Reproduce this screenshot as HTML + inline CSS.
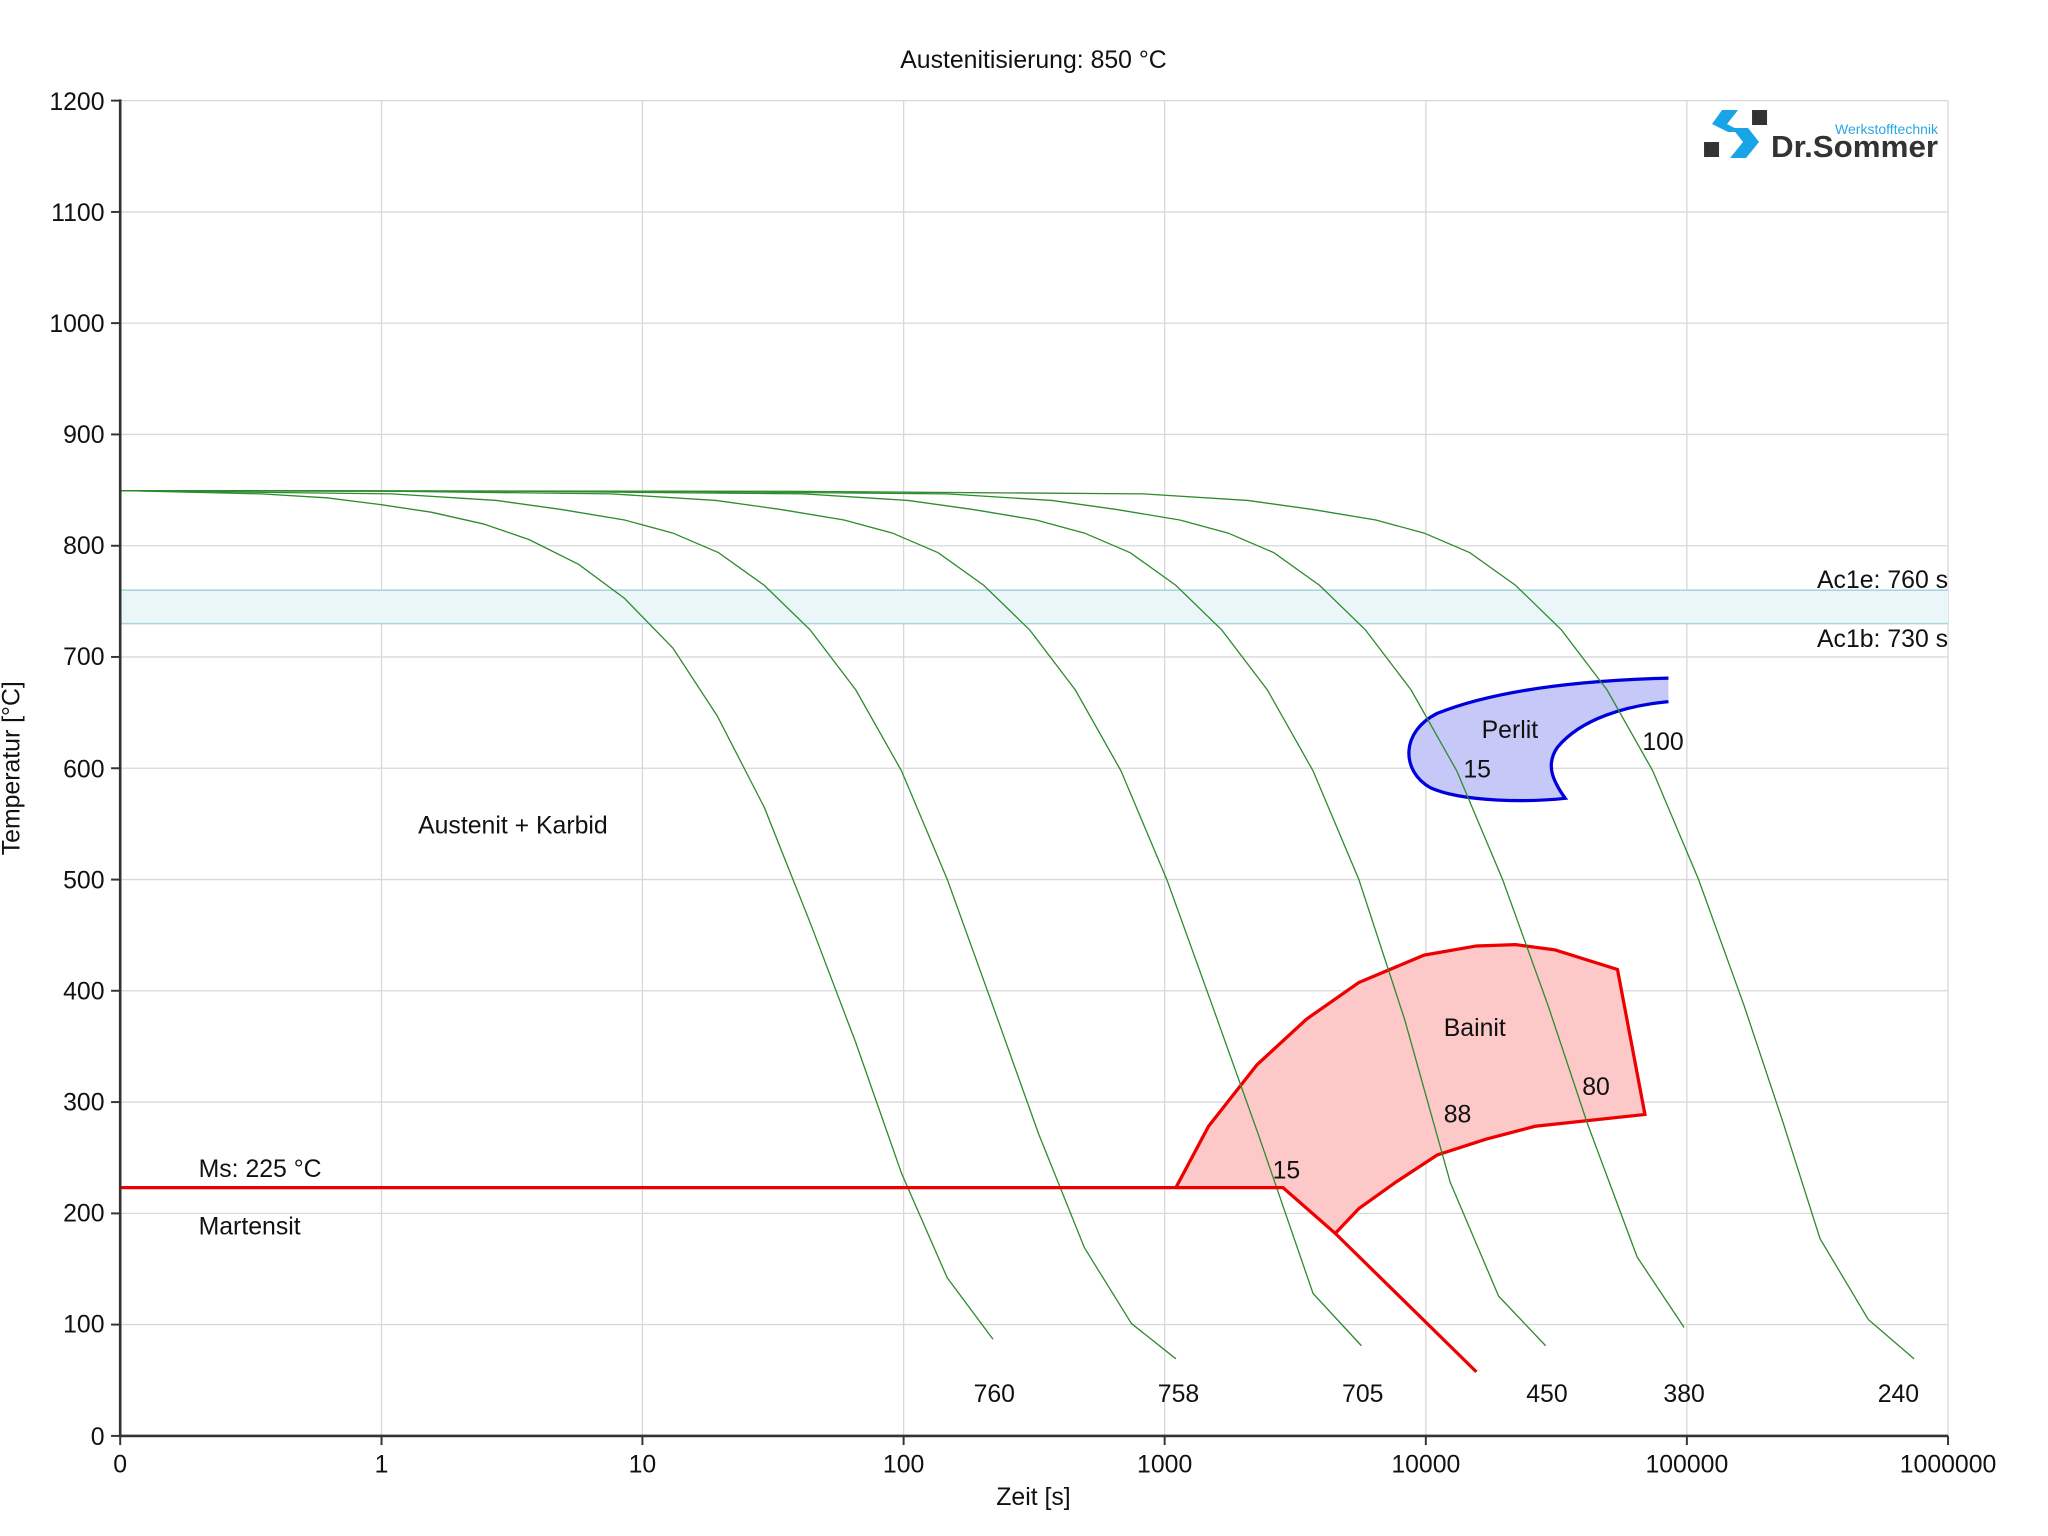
<!DOCTYPE html>
<html><head><meta charset="utf-8"><style>
html,body{margin:0;padding:0;background:#fff;}
svg{display:block;}
text{font-family:"Liberation Sans",sans-serif;fill:#111;}
</style></head><body>
<svg width="2048" height="1536" viewBox="0 0 1567.5 1175.6" xmlns="http://www.w3.org/2000/svg">
<rect width="1567.5" height="1175.6" fill="#fff"/>
<g stroke="#d8d8d8" stroke-width="1">
<line x1="92" y1="77" x2="1491" y2="77"/>
<line x1="92" y1="162.2" x2="1491" y2="162.2"/>
<line x1="92" y1="247.3" x2="1491" y2="247.3"/>
<line x1="92" y1="332.5" x2="1491" y2="332.5"/>
<line x1="92" y1="417.7" x2="1491" y2="417.7"/>
<line x1="92" y1="502.8" x2="1491" y2="502.8"/>
<line x1="92" y1="588" x2="1491" y2="588"/>
<line x1="92" y1="673.2" x2="1491" y2="673.2"/>
<line x1="92" y1="758.3" x2="1491" y2="758.3"/>
<line x1="92" y1="843.5" x2="1491" y2="843.5"/>
<line x1="92" y1="928.7" x2="1491" y2="928.7"/>
<line x1="92" y1="1013.8" x2="1491" y2="1013.8"/>
<line x1="292" y1="77" x2="292" y2="1099"/>
<line x1="491.7" y1="77" x2="491.7" y2="1099"/>
<line x1="691.6" y1="77" x2="691.6" y2="1099"/>
<line x1="891.4" y1="77" x2="891.4" y2="1099"/>
<line x1="1091.3" y1="77" x2="1091.3" y2="1099"/>
<line x1="1291.1" y1="77" x2="1291.1" y2="1099"/>
<line x1="1491" y1="77" x2="1491" y2="1099"/>
</g>
<rect x="92" y="451.7" width="1399" height="25.6" fill="#ebf6f9"/>
<line x1="92" y1="451.7" x2="1491" y2="451.7" stroke="#a9d6df" stroke-width="1.2"/>
<line x1="92" y1="477.3" x2="1491" y2="477.3" stroke="#a9d6df" stroke-width="1.2"/>
<path d="M900,909 L925,862 L962,815 L1000,780 L1040,752 L1090,731 L1130,724 L1160,723 L1190,727 L1238,742 L1259,853 L1175,862 L1137,872 L1100,884 L1068,905 L1040,925 L1022,944 L982,909 Z" fill="#fcc8c8" stroke="none"/>
<path d="M900,909 L925,862 L962,815 L1000,780 L1040,752 L1090,731 L1130,724 L1160,723 L1190,727 L1238,742 L1259,853 L1175,862 L1137,872 L1100,884 L1068,905 L1040,925 L1022,944" fill="none" stroke="#ee0000" stroke-width="2.5"/>
<path d="M1277,519 C1200,521 1140,530 1100,546 C1072,560 1072,590 1095,603 C1120,614 1170,614 1198,611 C1188,597 1183,585 1192,572 C1210,550 1245,540 1277,537 Z" fill="#c6c8f8" stroke="none"/>
<path d="M1277,519 C1200,521 1140,530 1100,546 C1072,560 1072,590 1095,603 C1120,614 1170,614 1198,611 C1188,597 1183,585 1192,572 C1210,550 1245,540 1277,537" fill="none" stroke="#0000dd" stroke-width="2.5"/>
<g fill="none" stroke="#2e8b2e" stroke-width="1">
<polyline points="92,375.5 200,378 250,381 290,386 330,392 370,401 405,413 443,432 478,458 515,496 549,548 585,618 620,706 655,798 690,898 725,978 760,1025"/>
<polyline points="92,375.5 300,378 380,383 430,390 478,398 515,408 550,423 585,448 620,482 655,528 690,590 725,673 760,770 795,868 830,955 866,1013 900,1040"/>
<polyline points="92,375.5 300,376 468,378 548,383 598,390 646,398 683,408 718,423 753,448 788,482 823,528 858,590 893,673 928,770 963,868 1005,990 1042,1030"/>
<polyline points="92,375.5 400,376 615,378 695,383 745,390 793,398 830,408 865,423 900,448 935,482 970,528 1005,590 1040,673 1075,780 1110,905 1147,992 1183,1030"/>
<polyline points="92,375.5 500,376 725,378 805,383 855,390 903,398 940,408 975,423 1010,448 1045,482 1080,528 1115,590 1150,673 1185,770 1215,860 1253,962 1289,1016"/>
<polyline points="92,375.5 600,376 875,378 955,383 1005,390 1053,398 1090,408 1125,423 1160,448 1195,482 1230,528 1265,590 1300,673 1335,770 1365,860 1393,948 1430,1010 1465,1040"/>
</g>
<polyline points="92,909 982,909 1022,944 1130,1050" fill="none" stroke="#ee0000" stroke-width="2.5"/>
<g stroke="#333" stroke-width="2">
<line x1="92" y1="76" x2="92" y2="1100"/>
<line x1="91" y1="1099" x2="1491" y2="1099"/>
</g>
<g stroke="#333" stroke-width="1.5">
<line x1="85" y1="77" x2="92" y2="77"/><line x1="85" y1="162.2" x2="92" y2="162.2"/><line x1="85" y1="247.3" x2="92" y2="247.3"/><line x1="85" y1="332.5" x2="92" y2="332.5"/><line x1="85" y1="417.7" x2="92" y2="417.7"/><line x1="85" y1="502.8" x2="92" y2="502.8"/><line x1="85" y1="588" x2="92" y2="588"/><line x1="85" y1="673.2" x2="92" y2="673.2"/><line x1="85" y1="758.3" x2="92" y2="758.3"/><line x1="85" y1="843.5" x2="92" y2="843.5"/><line x1="85" y1="928.7" x2="92" y2="928.7"/><line x1="85" y1="1013.8" x2="92" y2="1013.8"/><line x1="85" y1="1099" x2="92" y2="1099"/>
<line x1="92" y1="1099" x2="92" y2="1106"/><line x1="292" y1="1099" x2="292" y2="1106"/><line x1="491.7" y1="1099" x2="491.7" y2="1106"/><line x1="691.6" y1="1099" x2="691.6" y2="1106"/><line x1="891.4" y1="1099" x2="891.4" y2="1106"/><line x1="1091.3" y1="1099" x2="1091.3" y2="1106"/><line x1="1291.1" y1="1099" x2="1291.1" y2="1106"/><line x1="1491" y1="1099" x2="1491" y2="1106"/>
</g>
<g font-size="19" text-anchor="end">
<text x="80" y="84">1200</text><text x="80" y="169">1100</text><text x="80" y="254">1000</text><text x="80" y="339">900</text><text x="80" y="424">800</text><text x="80" y="509">700</text><text x="80" y="595">600</text><text x="80" y="680">500</text><text x="80" y="765">400</text><text x="80" y="850">300</text><text x="80" y="935">200</text><text x="80" y="1020">100</text><text x="80" y="1106">0</text>
</g>
<g font-size="19" text-anchor="middle">
<text x="92" y="1127">0</text><text x="292" y="1127">1</text><text x="491.7" y="1127">10</text><text x="691.6" y="1127">100</text><text x="891.4" y="1127">1000</text><text x="1091.3" y="1127">10000</text><text x="1291.1" y="1127">100000</text><text x="1491" y="1127">1000000</text>
<text x="791" y="1152">Zeit [s]</text>
<text x="791" y="52">Austenitisierung: 850 °C</text>
<text x="761" y="1073">760</text><text x="902" y="1073">758</text><text x="1043" y="1073">705</text><text x="1184" y="1073">450</text><text x="1289" y="1073">380</text><text x="1453" y="1073">240</text>
</g>
<text font-size="19" text-anchor="middle" transform="translate(15,588) rotate(-90)">Temperatur [°C]</text>
<g font-size="19">
<text x="320" y="638">Austenit + Karbid</text>
<text x="152" y="901">Ms: 225 °C</text>
<text x="152" y="945">Martensit</text>
<text x="1134" y="565">Perlit</text>
<text x="1120" y="595">15</text>
<text x="1257" y="574">100</text>
<text x="1105" y="793">Bainit</text>
<text x="1105" y="859">88</text>
<text x="1211" y="838">80</text>
<text x="974" y="902">15</text>
<text x="1491" y="450" text-anchor="end">Ac1e: 760 s</text>
<text x="1491" y="495" text-anchor="end">Ac1b: 730 s</text>
</g>
<g transform="scale(0.76540)">
<rect x="1704" y="142" width="15" height="15" fill="#333"/>
<rect x="1752" y="110" width="15" height="15" fill="#333"/>
<polygon points="1722,110 1738,110 1727,124 1742,132 1728,132 1712,124" fill="#18a4e6"/>
<polygon points="1732,128 1748,128 1759,142 1746,158 1730,158 1743,142" fill="#18a4e6"/>
<text x="1771" y="157" font-size="31" font-weight="bold" textLength="167" lengthAdjust="spacingAndGlyphs" style="fill:#333">Dr.Sommer</text>
<text x="1835" y="134" font-size="14" textLength="103" lengthAdjust="spacingAndGlyphs" style="fill:#29a8e0">Werkstofftechnik</text>
</g>
</svg>
</body></html>
